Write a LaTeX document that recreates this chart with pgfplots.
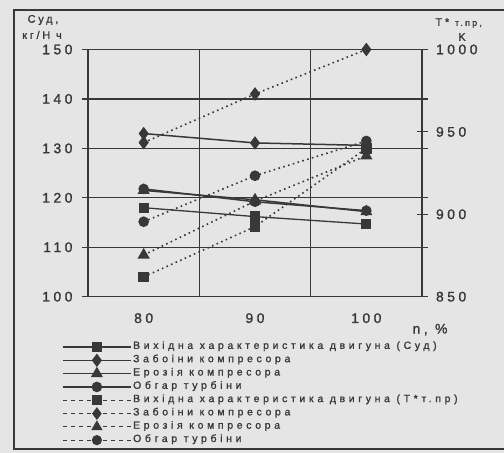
\documentclass[border=0pt]{standalone}
\usepackage{pgfplots}
\pgfplotsset{compat=1.18}
\usepackage{fontspec}
\setmainfont{Liberation Sans}[LetterSpace=25, FakeBold=1.2]
\newfontfamily\legfont{Liberation Sans}[LetterSpace=35, FakeBold=1.2]
\definecolor{bg}{gray}{0.9}
\definecolor{ink}{gray}{0.22}
\pgfplotsset{
  sq/.style={ink, line width=1.3bp, mark=square*, mark size=4.5bp, mark options={solid, fill=ink, draw=ink}},
  di/.style={ink, line width=1.5bp, mark=diamond*, mark size=5.5bp, mark options={solid, fill=ink, draw=ink}},
  tr/.style={ink, line width=1.5bp, mark=triangle*, mark size=5.5bp, mark options={solid, fill=ink, draw=ink}},
  ci/.style={ink, line width=1.5bp, mark=*, mark size=4.5bp, mark options={solid, fill=ink, draw=ink}},
  dl/.style={dash pattern=on 1.6bp off 3.4bp, line width=1.6bp, legend image post style={dash pattern=on 4bp off 4bp, line width=1.1bp}},
}
\begin{document}
\begin{tikzpicture}[x=1bp,y=1bp]
\clip (0,0) rectangle (504,453);
\fill[bg] (0,0) rectangle (504,453);
\draw[ink, line width=1.3bp] (14,4) rectangle (530,443);
\begin{axis}[
  at={(88bp,156.3bp)}, anchor=south west,
  scale only axis, width=334bp, height=247.2bp,
  xmin=-0.5, xmax=2.5, ymin=100, ymax=150,
  xtick={0,1,2}, xticklabels={80,90,100},
  ytick={100,110,...,150},
  ymajorgrids,
  extra x ticks={0.5,1.5}, extra x tick labels={},
  extra x tick style={grid=major, major tick length=0pt},
  axis line style={ink, line width=1.2bp},
  grid style={ink, line width=1.2bp},
  tick align=outside,
  major tick length=6bp,
  xtick style={draw=none},
  ytick style={ink, line width=1.2bp},
  ticklabel style={text=ink},
  xticklabel style={yshift=-7bp},
  yticklabel style={xshift=-6bp},
  font=\fontsize{14}{16}\selectfont,
  /pgf/number format/assume math mode=true,
  clip=false,
]
\addplot[sq] coordinates {(0,118.0) (1,116.2) (2,114.7)};
\addplot[di] coordinates {(0,133.0) (1,131.1) (2,130.6)};
\addplot[tr] coordinates {(0,121.5) (1,119.6) (2,117.2)};
\addplot[ci] coordinates {(0,121.8) (1,119.2) (2,117.4)};
\node[text=ink, font=\fontsize{14}{16}\selectfont] at (axis description cs:1.024,-0.133) {n, \%};
\end{axis}
\begin{axis}[
  at={(88bp,156.3bp)}, anchor=south west,
  scale only axis, width=334bp, height=247.2bp,
  xmin=-0.5, xmax=2.5, ymin=850, ymax=1000,
  axis x line=none, axis y line*=right,
  ytick={850,900,950,1000},
  y axis line style={ink, line width=1.2bp},
  ytick style={ink, line width=1.2bp},
  tick align=center, major tick length=11bp,
  yticklabel style={text=ink, anchor=west, xshift=5bp, /pgf/number format/1000 sep={}},
  font=\fontsize{14}{16}\selectfont,
  /pgf/number format/assume math mode=true,
  clip=false,
  legend style={at={(-0.078,-0.176)}, anchor=north west, draw=none, fill=none,
    font=\legfont\fontsize{10.5}{12}\selectfont, text=ink, inner sep=0pt,
    row sep=0pt, nodes={inner ysep=0pt, inner xsep=1.5bp, text height=8.5bp, text depth=4.8bp}},
  legend cell align=left,
  legend image code/.code={\draw[mark repeat=2,mark phase=2] plot coordinates {(0bp,0bp) (34bp,0bp) (68bp,0bp)};},
]
\addlegendimage{sq}\addlegendentry{Вихідна характеристика двигуна (Суд)}
\addlegendimage{di}\addlegendentry{Забоіни компресора}
\addlegendimage{tr}\addlegendentry{Ерозія компресора}
\addlegendimage{ci}\addlegendentry{Обгар турбіни}
\addplot[sq, dl] coordinates {(0,862) (1,892.5) (2,940)};
\addlegendentry{Вихідна характеристика двигуна (T*т.пр)}
\addplot[di, dl] coordinates {(0,943.5) (1,973) (2,1000)};
\addlegendentry{Забоіни компресора}
\addplot[tr, dl] coordinates {(0,875.3) (1,908) (2,935.5)};
\addlegendentry{Ерозія компресора}
\addplot[ci, dl] coordinates {(0,895.5) (1,923.4) (2,944.5)};
\addlegendentry{Обгар турбіни}
\end{axis}
\node[text=ink, font=\fontsize{11}{13}\selectfont] at (43,433) {Суд,};
\node[text=ink, font=\fontsize{11}{13}\selectfont] at (42,418) {кг/Н ч};
\node[text=ink, font=\fontsize{11}{13}\selectfont, anchor=west] at (432,430) {T* {\fontsize{9}{10}\selectfont т.пр,}};
\node[text=ink, font=\fontsize{11}{13}\selectfont] at (462,416) {K};
\end{tikzpicture}
\end{document}
